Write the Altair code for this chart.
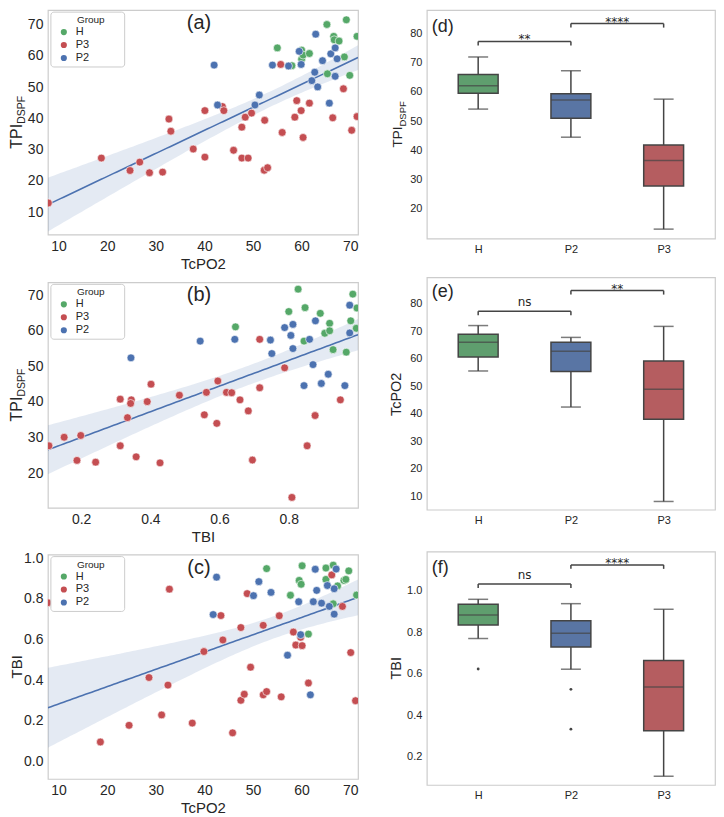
import altair as alt
import numpy as np
import pandas as pd

FONT = "Liberation Sans"
TXT = "#262626"
EDGE = "#444444"
FRAME = "#cccccc"
GROUPS = ["H", "P3", "P2"]
PT_COLORS = ["#55A868", "#C44E52", "#4C72B0"]
REG_COLOR = "#4C72B0"
CATS = ["H", "P2", "P3"]
BOX_COLORS = ["#5F9E6E", "#5975A4", "#B55D60"]
BR_FROM = ["H", "P2"]
BR_TO = ["P2", "P3"]
LEGEND_TITLE = "Group"

# ---------------- (a) TcPO2 vs TPI_DSPF ----------------
a_H_tcpo2 = [55.0, 65.2, 69.2, 66.6, 66.7, 67.7, 71.4, 60.0, 60.0, 60.3, 61.6, 58.0, 68.8, 65.3, 69.9]
a_H_tpi = [62.6, 70.1, 71.6, 66.3, 65.2, 64.8, 66.3, 61.9, 59.0, 60.3, 60.8, 56.9, 59.7, 54.3, 53.8]
a_P2_tcpo2 = [42.0, 42.7, 51.3, 50.4, 54.0, 57.3, 59.9, 59.5, 62.9, 64.3, 62.7, 62.1, 63.3, 66.0, 66.9, 67.3, 66.9, 65.7]
a_P2_tpi = [57.1, 44.3, 47.5, 44.3, 57.1, 56.8, 57.3, 61.5, 67.0, 58.5, 54.8, 52.1, 50.1, 60.7, 62.6, 59.1, 53.5, 44.9]
a_P3_tcpo2 = [7.9, 18.8, 24.7, 26.7, 28.7, 31.4, 32.7, 33.1, 37.7, 40.1, 40.1, 43.7, 44.0, 46.0, 47.7, 48.4, 47.7,
              49.0, 49.7, 52.4, 52.3, 53.0, 55.7, 56.0, 59.0, 58.6, 59.9, 60.3, 61.6, 68.6, 66.4, 71.4, 70.3]
a_P3_tpi = [12.9, 27.3, 23.3, 26.0, 22.6, 22.8, 39.8, 35.9, 30.2, 42.5, 27.6, 43.8, 42.5, 29.8, 37.2, 40.4, 27.3,
            27.3, 41.7, 39.4, 23.4, 24.2, 57.3, 35.5, 45.7, 40.4, 42.5, 33.9, 44.9, 49.5, 40.2, 40.6, 36.2]

# ---------------- (b) TBI vs TPI_DSPF ----------------
b_H_tbi = [0.646, 0.800, 0.847, 0.891, 0.827, 0.985, 0.997, 0.979, 0.995, 0.918, 0.904, 0.918, 0.844, 0.928, 0.966]
b_H_tpi = [61.1, 65.4, 66.5, 64.9, 71.7, 70.3, 66.4, 62.8, 60.7, 62.1, 59.3, 60.0, 57.1, 54.7, 54.0]
b_P2_tbi = [0.344, 0.544, 0.644, 0.747, 0.751, 0.788, 0.806, 0.812, 0.812, 0.860, 0.877, 0.870, 0.844, 0.894,
            0.914, 0.962, 0.976, 0.976]
b_P2_tpi = [52.4, 57.1, 57.6, 57.4, 53.6, 60.9, 58.7, 61.8, 55.0, 57.6, 62.8, 50.5, 44.6, 45.2, 47.8, 44.6, 67.2, 59.4]
b_P3_tbi = [0.107, 0.151, 0.199, 0.188, 0.242, 0.313, 0.313, 0.334, 0.345, 0.343, 0.359, 0.391, 0.402, 0.428,
            0.484, 0.556, 0.562, 0.595, 0.592, 0.620, 0.635, 0.659, 0.683, 0.695, 0.716, 0.716, 0.788, 0.809,
            0.853, 0.876, 0.949]
b_P3_tpi = [27.7, 30.1, 30.6, 23.6, 23.1, 40.8, 27.7, 35.6, 40.6, 39.6, 24.6, 40.1, 45.0, 22.9, 41.9, 36.4, 42.7,
            45.9, 34.0, 42.7, 42.6, 40.6, 37.5, 23.7, 44.0, 57.6, 49.6, 13.2, 27.7, 36.2, 40.6]

# ---------------- (c) TcPO2 vs TBI ----------------
c_H_tcpo2 = [52.8, 60.1, 65.0, 66.5, 69.7, 59.5, 59.9, 65.0, 68.7, 69.1, 67.4, 57.7, 71.3, 66.5, 61.4]
c_H_tbi = [0.949, 0.963, 0.952, 0.966, 0.938, 0.891, 0.872, 0.896, 0.891, 0.896, 0.864, 0.818, 0.819, 0.776, 0.627]
c_P2_tcpo2 = [42.5, 41.8, 51.2, 50.1, 53.7, 59.4, 62.4, 64.1, 62.8, 63.1, 65.3, 66.7, 67.1, 65.7, 66.7, 59.8, 57.1, 61.8]
c_P2_tbi = [0.907, 0.723, 0.885, 0.816, 0.832, 0.786, 0.786, 0.779, 0.946, 0.842, 0.866, 0.850, 0.947, 0.763,
            0.725, 0.624, 0.523, 0.328]
c_P3_tcpo2 = [7.8, 18.6, 24.5, 28.6, 31.2, 32.5, 32.8, 37.5, 39.9, 43.4, 43.8, 45.8, 47.5, 47.5, 48.2, 48.8, 49.5,
              52.1, 52.1, 52.8, 55.4, 55.8, 58.3, 58.8, 59.8, 60.1, 61.4, 66.2, 68.4, 70.1, 71.1]
c_P3_tbi = [0.781, 0.096, 0.178, 0.413, 0.229, 0.376, 0.848, 0.189, 0.541, 0.718, 0.598, 0.141, 0.659, 0.301,
            0.331, 0.826, 0.464, 0.670, 0.328, 0.344, 0.717, 0.318, 0.637, 0.573, 0.611, 0.570, 0.386, 0.918,
            0.763, 0.536, 0.299]

# ---------------- box plot summaries (H, P2, P3) ----------------
d_lo = [54.1, 44.5, 13.1]
d_q1 = [59.5, 51.0, 27.8]
d_med = [62.1, 57.2, 36.5]
d_q3 = [65.9, 59.3, 41.8]
d_hi = [71.9, 67.2, 57.5]
d_br_level = [77.2, 83.3]
d_br_text = ["**", "****"]

e_lo = [55.6, 42.5, 8.2]
e_q1 = [60.7, 55.4, 38.1]
e_med = [66.0, 62.8, 49.0]
e_q3 = [68.9, 66.0, 59.2]
e_hi = [72.1, 67.8, 71.8]
e_br_level = [77.3, 84.8]
e_br_text = ["ns", "**"]

f_lo = [0.769, 0.621, 0.105]
f_q1 = [0.834, 0.728, 0.324]
f_med = [0.882, 0.794, 0.535]
f_q3 = [0.934, 0.855, 0.663]
f_hi = [0.958, 0.937, 0.910]
f_out_group = ["H", "P2", "P2"]
f_out_val = [0.622, 0.524, 0.332]
f_br_level = [1.032, 1.124]
f_br_text = ["ns", "****"]

CHAR_W = {"T": 0.611, "P": 0.667, "I": 0.278, "D": 0.722, "S": 0.667, "F": 0.611,
          "c": 0.5, "O": 0.778, "2": 0.556, "B": 0.667}


def text_len(s, f):
    return sum(CHAR_W.get(ch, 0.6) for ch in s) * f


def one_row(text):
    return pd.DataFrame({"t": [text]})


def ytitle(parts, h):
    total = sum(text_len(t, f) for t, f, _ in parts)
    start = h / 2 + total / 2
    layers = []
    for t, f, xo in parts:
        layers.append(
            alt.Chart(one_row(t)).mark_text(angle=270, align="left", baseline="middle", font=FONT,
                                            fontSize=f, color=TXT)
            .encode(text="t:N", x=alt.value(xo), y=alt.value(start)))
        start -= text_len(t, f)
    return layers


def legend_layers():
    layers = [
        alt.Chart(one_row("")).mark_rect(fill="white", stroke=FRAME, strokeWidth=1, cornerRadius=3).encode(
            x=alt.value(3), x2=alt.value(77), y=alt.value(2), y2=alt.value(57)),
        alt.Chart(one_row(LEGEND_TITLE)).mark_text(font=FONT, fontSize=10, color=TXT, align="center",
                                                   baseline="middle").encode(
            text="t:N", x=alt.value(43), y=alt.value(10)),
    ]
    for i, (g, col) in enumerate(zip(GROUPS, PT_COLORS)):
        yy = 22 + 13 * i
        layers.append(alt.Chart(one_row(g)).mark_circle(size=38, color=col, opacity=1).encode(
            x=alt.value(16), y=alt.value(yy)))
        layers.append(alt.Chart(one_row(g)).mark_text(font=FONT, fontSize=11, color=TXT, align="left",
                                                       baseline="middle").encode(
            text="t:N", x=alt.value(28), y=alt.value(yy)))
    return layers


def scatter_panel(xs, ys, xdom, ydom, xticks, yticks, xfmt, yfmt, xtitle, ytitle_parts, label, w, h):
    rows = []
    for g, xv, yv in zip(GROUPS, xs, ys):
        for p, q in zip(xv, yv):
            rows.append({"x": p, "y": q, "Group": g})
    df = pd.DataFrame(rows)
    x = df["x"].to_numpy()
    y = df["y"].to_numpy()
    slope, icpt = np.polyfit(x, y, 1)
    n = len(x)
    xm = x.mean()
    s = np.sqrt(np.sum((y - (icpt + slope * x)) ** 2) / (n - 2))
    sxx = np.sum((x - xm) ** 2)
    grid = np.linspace(xdom[0], xdom[1], 100)
    fit = icpt + slope * grid
    se = s * np.sqrt(1.0 / n + (grid - xm) ** 2 / sxx)
    reg = pd.DataFrame({"x": grid, "fit": fit, "lo": fit - 1.998 * se, "hi": fit + 1.998 * se})

    xsc = alt.Scale(domain=xdom, nice=False, zero=False)
    ysc = alt.Scale(domain=ydom, nice=False, zero=False)
    xaxis = alt.Axis(values=xticks, format=xfmt, title=xtitle, labelFontSize=14, titleFontSize=15,
                     labelPadding=5, titlePadding=3, labelFlush=False)
    yaxis = alt.Axis(values=yticks, format=yfmt, title=None, labelFontSize=14, labelPadding=5, labelFlush=False)
    X = alt.X("x:Q", scale=xsc, axis=xaxis)

    band = alt.Chart(reg).mark_area(color=REG_COLOR, opacity=0.15, clip=True).encode(
        x=X, y=alt.Y("lo:Q", scale=ysc, axis=yaxis), y2="hi:Q")
    line = alt.Chart(reg).mark_line(color=REG_COLOR, strokeWidth=1.6, clip=True).encode(
        x=X, y=alt.Y("fit:Q", scale=ysc, axis=yaxis))
    pts = alt.Chart(df).mark_circle(size=62, opacity=1, stroke="white", strokeWidth=0.6, clip=True).encode(
        x=X, y=alt.Y("y:Q", scale=ysc, axis=yaxis),
        color=alt.Color("Group:N", scale=alt.Scale(domain=GROUPS, range=PT_COLORS), legend=None))
    lab = alt.Chart(one_row(label)).mark_text(font=FONT, fontSize=20, color=TXT, baseline="middle",
                                              align="center").encode(
        text="t:N", x=alt.value(w / 2 - 4), y=alt.value(13))
    return alt.layer(band, line, pts, *legend_layers(), lab, *ytitle(ytitle_parts, h)).properties(
        width=w, height=h)


def box_panel(lo, q1, med, q3, hi, out_cat, out_val, br_lev, br_txt, ydom, yticks, yfmt,
              ytitle_parts, label, label_y, w, h):
    idx = list(range(len(CATS)))
    stats = pd.DataFrame({"idx": idx, "lo": lo, "q1": q1, "med": med, "q3": q3, "hi": hi, "fill": BOX_COLORS})
    caps = pd.DataFrame({"idx": idx * 2, "v": list(lo) + list(hi)})
    outs = pd.DataFrame({"idx": [CATS.index(c) for c in out_cat], "v": list(out_val)})
    br = pd.DataFrame({"l": [CATS.index(c) for c in BR_FROM], "r": [CATS.index(c) for c in BR_TO],
                       "lev": br_lev, "txt": br_txt})
    xsc = alt.Scale(domain=[-0.5, len(CATS) - 0.5], nice=False, zero=False)
    label_expr = "[" + ",".join("'%s'" % c for c in CATS) + "][datum.value]"
    xaxis = alt.Axis(values=idx, labelExpr=label_expr, title=None, labelFontSize=11, labelPadding=5,
                     labelFlush=False)
    ysc = alt.Scale(domain=ydom, nice=False, zero=False)
    yaxis = alt.Axis(values=yticks, format=yfmt, title=None, labelFontSize=11, labelPadding=5, labelFlush=False)

    def X(fld):
        return alt.X(fld + ":Q", scale=xsc, axis=xaxis)

    def Y(fld):
        return alt.Y(fld + ":Q", scale=ysc, axis=yaxis)

    whisk = alt.Chart(stats).mark_rule(color=EDGE, strokeWidth=1.5).encode(x=X("idx"), y=Y("lo"), y2="hi:Q")
    box = alt.Chart(stats).mark_bar(size=40, stroke=EDGE, strokeWidth=1.5).encode(
        x=X("idx"), y=Y("q1"), y2="q3:Q", color=alt.Color("fill:N", scale=None))
    medl = alt.Chart(stats).mark_tick(orient="horizontal", size=40, thickness=1.5, color=EDGE).encode(
        x=X("idx"), y=Y("med"))
    capl = alt.Chart(caps).mark_tick(orient="horizontal", size=20, thickness=1.5, color=EDGE).encode(
        x=X("idx"), y=Y("v"))
    layers = [whisk, box, medl, capl]
    if len(outs):
        layers.append(alt.Chart(outs).mark_circle(size=8, color=EDGE, opacity=1).encode(x=X("idx"), y=Y("v")))
    hbr = alt.Chart(br).mark_rule(color=EDGE, strokeWidth=1.5).encode(x=X("l"), x2="r:Q", y=Y("lev"))
    vbr = alt.Chart(br).transform_fold(["l", "r"], as_=["side", "pos"]).mark_rule(
        color=EDGE, strokeWidth=1.5, y2Offset=4).encode(x=X("pos"), y=Y("lev"), y2="lev:Q")
    base_t = alt.Chart(br).transform_calculate(mid="(datum.l + datum.r) / 2")
    t_ns = base_t.transform_filter("indexof(datum.txt, '*') < 0").mark_text(
        font="DejaVu Sans", fontSize=12, color=TXT, baseline="alphabetic", dy=-5).encode(
        x=X("mid"), y=Y("lev"), text="txt:N")
    t_star = base_t.transform_filter("indexof(datum.txt, '*') >= 0").mark_text(
        font="DejaVu Sans", fontSize=12, color=TXT, baseline="alphabetic", dy=2).encode(
        x=X("mid"), y=Y("lev"), text="txt:N")
    lab = alt.Chart(one_row(label)).mark_text(font=FONT, fontSize=18, color=TXT, baseline="middle",
                                              align="left").encode(
        text="t:N", x=alt.value(5), y=alt.value(label_y))
    layers += [hbr, vbr, t_ns, t_star, lab]
    return alt.layer(*layers, *ytitle(ytitle_parts, h)).properties(width=w, height=h)


TPI_BIG = [("TPI", 16, -31), ("DSPF", 10.5, -25.5)]
TPI_BOX = [("TPI", 13.5, -29), ("DSPF", 9.5, -24)]

pa = scatter_panel([a_H_tcpo2, a_P3_tcpo2, a_P2_tcpo2], [a_H_tpi, a_P3_tpi, a_P2_tpi],
                   [7.8, 71.6], [2.8, 74.7], [10, 20, 30, 40, 50, 60, 70], [10, 20, 30, 40, 50, 60, 70],
                   "d", "d", "TcPO2", TPI_BIG, "(a)", 311, 225)
pb = scatter_panel([b_H_tbi, b_P3_tbi, b_P2_tbi], [b_H_tpi, b_P3_tpi, b_P2_tpi],
                   [0.104, 1.0], [10.3, 73.6], [0.2, 0.4, 0.6, 0.8], [20, 30, 40, 50, 60, 70],
                   ".1f", "d", "TBI", TPI_BIG, "(b)", 311, 226)
pc = scatter_panel([c_H_tcpo2, c_P3_tcpo2, c_P2_tcpo2], [c_H_tbi, c_P3_tbi, c_P2_tbi],
                   [7.8, 71.6], [-0.086, 1.018], [10, 20, 30, 40, 50, 60, 70], [0.0, 0.2, 0.4, 0.6, 0.8, 1.0],
                   "d", ".1f", "TcPO2", [("TBI", 15, -31)], "(c)", 311, 225)

pd_ = box_panel(d_lo, d_q1, d_med, d_q3, d_hi, [], [], d_br_level, d_br_text, [9.9, 87.9],
                [20, 30, 40, 50, 60, 70, 80], "d", TPI_BOX, "(d)", 17, 289, 229)
pe = box_panel(e_lo, e_q1, e_med, e_q3, e_hi, [], [], e_br_level, e_br_text, [5.2, 89.6],
               [10, 20, 30, 40, 50, 60, 70, 80], "d", [("TcPO2", 14.5, -30)], "(e)", 15, 289, 233)
pf = box_panel(f_lo, f_q1, f_med, f_q3, f_hi, f_out_group, f_out_val, f_br_level, f_br_text, [0.063, 1.188],
               [0.2, 0.4, 0.6, 0.8, 1.0], ".1f", [("TBI", 14.5, -30)], "(f)", 16, 289, 234)

left_bc = alt.vconcat(pb, pc, spacing=5)
left = alt.vconcat(pa, left_bc, spacing=9)
right_ef = alt.vconcat(pe, pf, spacing=24)
right = alt.vconcat(pd_, right_ef, spacing=21)

chart = (
    alt.hconcat(left, right, spacing=29)
    .properties(padding=0, background="white")
    .configure_view(stroke=FRAME, strokeWidth=1.2)
    .configure_axis(domain=False, ticks=False, grid=False, labelFont=FONT, titleFont=FONT,
                    labelColor=TXT, titleColor=TXT, titleFontWeight="normal")
)

chart.save("out.html", embed_options={"renderer": "svg", "actions": False})
